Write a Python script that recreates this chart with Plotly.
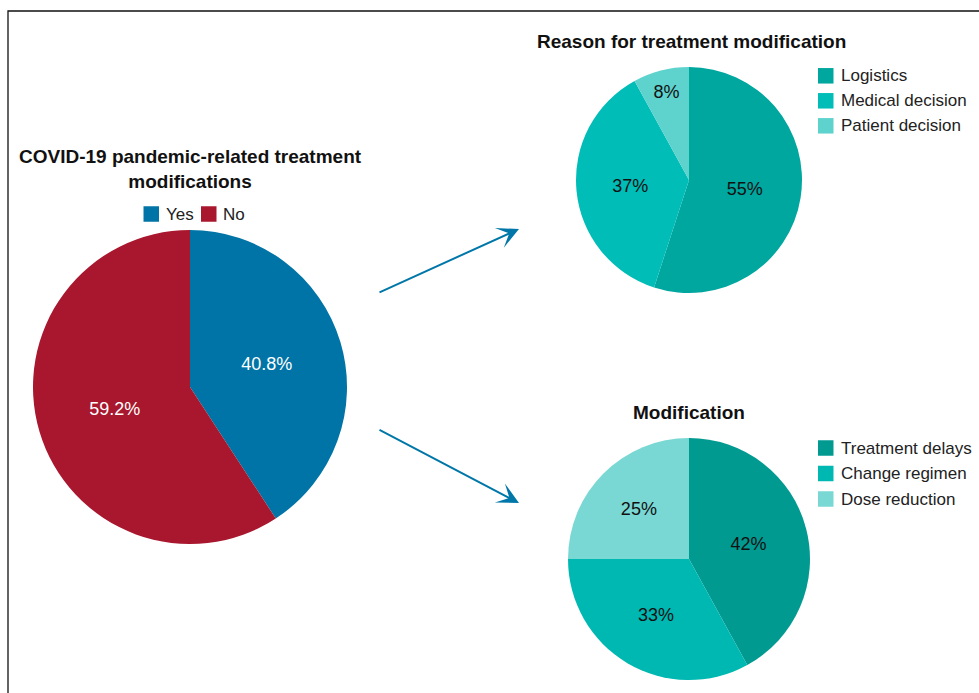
import plotly.graph_objects as go

W, H = 979, 693

main_labels = ["Yes", "No"]
main_values = [40.8, 59.2]
main_colors = ["#0074a6", "#a8172e"]

reason_labels = ["Logistics", "Medical decision", "Patient decision"]
reason_values = [55, 37, 8]
reason_colors = ["#00a79f", "#00bdb8", "#5ed2cd"]

mod_labels = ["Treatment delays", "Change regimen", "Dose reduction"]
mod_values = [42, 33, 25]
mod_colors = ["#009a91", "#00b8b2", "#79d8d4"]

FONT = "Liberation Sans, Arial, Helvetica, sans-serif"


def px_dom(x0, x1, y0, y1):
    return dict(x=[x0 / W, x1 / W], y=[1 - y1 / H, 1 - y0 / H])


def px(x, y):
    return x / W, 1 - y / H


fig = go.Figure()

fig.add_trace(go.Pie(
    labels=main_labels, values=main_values, sort=False, direction="clockwise",
    marker=dict(colors=main_colors, line=dict(width=0)),
    texttemplate="%{value:.1f}%", textposition="inside",
    insidetextorientation="horizontal",
    textfont=dict(color="white", size=18, family=FONT),
    domain=px_dom(33, 347, 230, 544), showlegend=False,
))

fig.add_trace(go.Pie(
    labels=reason_labels, values=reason_values, sort=False, direction="clockwise",
    marker=dict(colors=reason_colors, line=dict(width=0)),
    texttemplate="%{value}%", textposition="inside",
    insidetextorientation="horizontal",
    textfont=dict(color="#111111", size=18, family=FONT),
    domain=px_dom(576, 802, 67, 293), showlegend=False,
))

fig.add_trace(go.Pie(
    labels=mod_labels, values=mod_values, sort=False, direction="clockwise",
    marker=dict(colors=mod_colors, line=dict(width=0)),
    texttemplate="%{value}%", textposition="inside",
    insidetextorientation="horizontal",
    textfont=dict(color="#111111", size=18, family=FONT),
    domain=px_dom(568, 810, 438, 680), showlegend=False,
))

annotations = []
shapes = []

title_font = dict(size=19, family=FONT, color="#111111")
for text, cx, cy in [
    ("<b>COVID-19 pandemic-related treatment<br>modifications</b>", 190, 169),
    ("<b>Reason for treatment modification</b>", 691, 42),
    ("<b>Modification</b>", 689, 412),
]:
    x, y = px(cx, cy)
    annotations.append(dict(text=text, x=x, y=y, xref="paper", yref="paper",
                            showarrow=False, font=title_font, align="center",
                            xanchor="center", yanchor="middle"))

# arrows
for (x0, y0, x1, y1) in [(378, 293, 519, 229), (378, 429, 519, 503)]:
    x, y = px(x1, y1)
    annotations.append(dict(x=x, y=y, ax=x0 - x1, ay=y0 - y1,
                            xref="paper", yref="paper", axref="pixel", ayref="pixel",
                            showarrow=True, arrowhead=3, arrowsize=1.8, arrowwidth=2,
                            arrowcolor="#0077a8", text=""))

leg_font = dict(size=17, family=FONT, color="#222222")
SQ = 15.5


def legend_item(label, color, sx, cy, tx):
    shapes.append(dict(type="rect", xref="paper", yref="paper",
                       x0=sx / W, x1=(sx + SQ) / W,
                       y0=1 - (cy + SQ / 2) / H, y1=1 - (cy - SQ / 2) / H,
                       fillcolor=color, line=dict(width=0)))
    x, y = px(tx, cy)
    annotations.append(dict(text=label, x=x, y=y, xref="paper", yref="paper",
                            showarrow=False, font=leg_font,
                            xanchor="left", yanchor="middle"))


# main legend (horizontal)
legend_item(main_labels[0], main_colors[0], 143.5, 214, 164)
legend_item(main_labels[1], main_colors[1], 201, 214, 221)

for i, (lab, col) in enumerate(zip(reason_labels, reason_colors)):
    legend_item(lab, col, 818, 75.8 + 25 * i, 839)

for i, (lab, col) in enumerate(zip(mod_labels, mod_colors)):
    legend_item(lab, col, 818, 448 + 25.5 * i, 839)

shapes.append(dict(type="rect", xref="paper", yref="paper",
                   x0=8 / W, x1=1.01, y0=-0.01, y1=1 - 11 / H,
                   line=dict(color="#111111", width=1.3)))

fig.update_layout(
    width=W, height=H,
    margin=dict(l=0, r=0, t=0, b=0),
    paper_bgcolor="white", plot_bgcolor="white",
    font=dict(family=FONT),
    showlegend=False,
    annotations=annotations,
    shapes=shapes,
)

fig.write_html("out.html")
